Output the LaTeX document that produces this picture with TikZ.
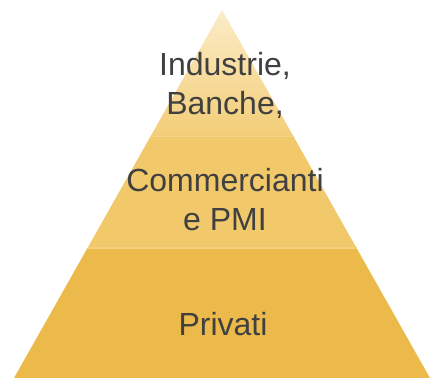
\documentclass[tikz,border=0pt]{standalone}
\usepackage{fontspec}
\setmainfont{Liberation Sans}
\definecolor{pyrtop}{RGB}{251,236,200}
\definecolor{pyrlow}{RGB}{243,205,118}
\definecolor{pyrmid}{RGB}{241,201,106}
\definecolor{pyrbase}{RGB}{236,186,74}
\definecolor{txtgray}{RGB}{64,64,64}
\tikzset{label/.style={text=txtgray,align=center,font=\fontsize{32}{39}\selectfont}}
\begin{document}
\begin{tikzpicture}[x=1pt,y=1pt]
    \useasboundingbox (0,0) rectangle (437,378);
    \coordinate (apex) at (222,368);
    \coordinate (l1) at (150.2,241);
    \coordinate (r1) at (293.8,241);
    \coordinate (l2) at (87.5,130);
    \coordinate (r2) at (356.5,130);
    \coordinate (bl) at (14,0);
    \coordinate (br) at (430,0);
    \shade[top color=pyrtop,bottom color=pyrlow] (apex) -- (l1) -- (r1) -- cycle;
    \fill[pyrmid] (l1) -- (l2) -- (r2) -- (r1) -- cycle;
    \fill[pyrbase] (l2) -- (bl) -- (br) -- (r2) -- cycle;
    \draw[pyrlow!85!white,line width=1pt] (l1) -- (r1);
    \draw[pyrmid!88!white,line width=1.5pt] (l2) -- (r2);
    \node[label] (top) at (225,293) {Industrie,\\Banche,};
    \node[label] (mid) at (225,178) {Commercianti\\e PMI};
    \node[label] (low) at (223,54) {Privati};
\end{tikzpicture}
\end{document}
